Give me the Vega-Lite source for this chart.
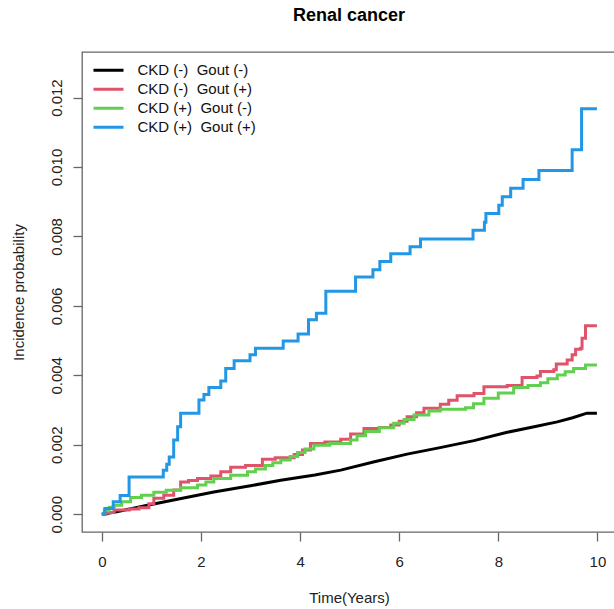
{
  "$schema": "https://vega.github.io/schema/vega-lite/v6.json",
  "width": 534,
  "height": 480,
  "autosize": "none",
  "padding": {"left": 82, "top": 52, "right": 0, "bottom": 77},
  "background": "white",
  "config": {
    "font": "Liberation Sans",
    "view": {"stroke": "#666666", "strokeWidth": 1.3},
    "axis": {
      "grid": false,
      "domain": false,
      "tickColor": "#666666",
      "tickWidth": 1.3,
      "tickSize": 9,
      "labelFont": "Liberation Sans",
      "labelFontSize": 15,
      "labelColor": "#222222",
      "titleFont": "Liberation Sans",
      "titleFontSize": 15,
      "titleFontWeight": "normal",
      "titleColor": "#222222"
    }
  },
  "title": {
    "text": "Renal cancer",
    "font": "Liberation Sans",
    "fontSize": 18,
    "fontWeight": "bold",
    "color": "#000000",
    "anchor": "middle",
    "offset": 27
  },
  "datasets": {
    "smooth": [
      {"t": 0, "p": 0, "g": "CKD (-)  Gout (-)"},
      {"t": 0.3, "p": 0.00007, "g": "CKD (-)  Gout (-)"},
      {"t": 0.92, "p": 0.00026, "g": "CKD (-)  Gout (-)"},
      {"t": 1.6, "p": 0.00045, "g": "CKD (-)  Gout (-)"},
      {"t": 2.26, "p": 0.00064, "g": "CKD (-)  Gout (-)"},
      {"t": 3.0, "p": 0.00082, "g": "CKD (-)  Gout (-)"},
      {"t": 3.61, "p": 0.00098, "g": "CKD (-)  Gout (-)"},
      {"t": 4.3, "p": 0.00113, "g": "CKD (-)  Gout (-)"},
      {"t": 4.82, "p": 0.00127, "g": "CKD (-)  Gout (-)"},
      {"t": 5.5, "p": 0.00151, "g": "CKD (-)  Gout (-)"},
      {"t": 6.16, "p": 0.00173, "g": "CKD (-)  Gout (-)"},
      {"t": 6.8, "p": 0.00191, "g": "CKD (-)  Gout (-)"},
      {"t": 7.51, "p": 0.00212, "g": "CKD (-)  Gout (-)"},
      {"t": 8.18, "p": 0.00236, "g": "CKD (-)  Gout (-)"},
      {"t": 8.7, "p": 0.00251, "g": "CKD (-)  Gout (-)"},
      {"t": 9.19, "p": 0.00266, "g": "CKD (-)  Gout (-)"},
      {"t": 9.5, "p": 0.00278, "g": "CKD (-)  Gout (-)"},
      {"t": 9.79, "p": 0.00291, "g": "CKD (-)  Gout (-)"},
      {"t": 9.99, "p": 0.00291, "g": "CKD (-)  Gout (-)"}
    ],
    "steps": [
      {"t": 0, "p": 0, "g": "CKD (-)  Gout (+)"},
      {"t": 0.08, "p": 0.00005, "g": "CKD (-)  Gout (+)"},
      {"t": 0.25, "p": 0.00012, "g": "CKD (-)  Gout (+)"},
      {"t": 0.55, "p": 0.00015, "g": "CKD (-)  Gout (+)"},
      {"t": 0.75, "p": 0.00019, "g": "CKD (-)  Gout (+)"},
      {"t": 0.95, "p": 0.0003, "g": "CKD (-)  Gout (+)"},
      {"t": 1.05, "p": 0.00046, "g": "CKD (-)  Gout (+)"},
      {"t": 1.25, "p": 0.00055, "g": "CKD (-)  Gout (+)"},
      {"t": 1.45, "p": 0.0007, "g": "CKD (-)  Gout (+)"},
      {"t": 1.59, "p": 0.00093, "g": "CKD (-)  Gout (+)"},
      {"t": 1.75, "p": 0.00097, "g": "CKD (-)  Gout (+)"},
      {"t": 1.93, "p": 0.00103, "g": "CKD (-)  Gout (+)"},
      {"t": 2.2, "p": 0.0011, "g": "CKD (-)  Gout (+)"},
      {"t": 2.4, "p": 0.00122, "g": "CKD (-)  Gout (+)"},
      {"t": 2.6, "p": 0.00135, "g": "CKD (-)  Gout (+)"},
      {"t": 2.9, "p": 0.0014, "g": "CKD (-)  Gout (+)"},
      {"t": 3.24, "p": 0.00158, "g": "CKD (-)  Gout (+)"},
      {"t": 3.5, "p": 0.00163, "g": "CKD (-)  Gout (+)"},
      {"t": 3.88, "p": 0.00172, "g": "CKD (-)  Gout (+)"},
      {"t": 4.05, "p": 0.00185, "g": "CKD (-)  Gout (+)"},
      {"t": 4.21, "p": 0.00204, "g": "CKD (-)  Gout (+)"},
      {"t": 4.5, "p": 0.00208, "g": "CKD (-)  Gout (+)"},
      {"t": 4.82, "p": 0.00216, "g": "CKD (-)  Gout (+)"},
      {"t": 5.02, "p": 0.00231, "g": "CKD (-)  Gout (+)"},
      {"t": 5.29, "p": 0.00247, "g": "CKD (-)  Gout (+)"},
      {"t": 5.6, "p": 0.0025, "g": "CKD (-)  Gout (+)"},
      {"t": 5.83, "p": 0.00257, "g": "CKD (-)  Gout (+)"},
      {"t": 6.0, "p": 0.00268, "g": "CKD (-)  Gout (+)"},
      {"t": 6.16, "p": 0.00281, "g": "CKD (-)  Gout (+)"},
      {"t": 6.35, "p": 0.00292, "g": "CKD (-)  Gout (+)"},
      {"t": 6.5, "p": 0.00305, "g": "CKD (-)  Gout (+)"},
      {"t": 6.83, "p": 0.00317, "g": "CKD (-)  Gout (+)"},
      {"t": 7.0, "p": 0.00328, "g": "CKD (-)  Gout (+)"},
      {"t": 7.17, "p": 0.00341, "g": "CKD (-)  Gout (+)"},
      {"t": 7.51, "p": 0.00348, "g": "CKD (-)  Gout (+)"},
      {"t": 7.71, "p": 0.00367, "g": "CKD (-)  Gout (+)"},
      {"t": 8.18, "p": 0.00371, "g": "CKD (-)  Gout (+)"},
      {"t": 8.48, "p": 0.00394, "g": "CKD (-)  Gout (+)"},
      {"t": 8.78, "p": 0.00398, "g": "CKD (-)  Gout (+)"},
      {"t": 8.85, "p": 0.00411, "g": "CKD (-)  Gout (+)"},
      {"t": 9.12, "p": 0.00416, "g": "CKD (-)  Gout (+)"},
      {"t": 9.17, "p": 0.00433, "g": "CKD (-)  Gout (+)"},
      {"t": 9.39, "p": 0.00444, "g": "CKD (-)  Gout (+)"},
      {"t": 9.49, "p": 0.00459, "g": "CKD (-)  Gout (+)"},
      {"t": 9.56, "p": 0.00475, "g": "CKD (-)  Gout (+)"},
      {"t": 9.66, "p": 0.00478, "g": "CKD (-)  Gout (+)"},
      {"t": 9.69, "p": 0.00507, "g": "CKD (-)  Gout (+)"},
      {"t": 9.76, "p": 0.00543, "g": "CKD (-)  Gout (+)"},
      {"t": 9.99, "p": 0.00543, "g": "CKD (-)  Gout (+)"},

      {"t": 0, "p": 0, "g": "CKD (+)  Gout (-)"},
      {"t": 0.05, "p": 0.0001, "g": "CKD (+)  Gout (-)"},
      {"t": 0.15, "p": 0.0002, "g": "CKD (+)  Gout (-)"},
      {"t": 0.25, "p": 0.00026, "g": "CKD (+)  Gout (-)"},
      {"t": 0.4, "p": 0.00036, "g": "CKD (+)  Gout (-)"},
      {"t": 0.58, "p": 0.00048, "g": "CKD (+)  Gout (-)"},
      {"t": 0.8, "p": 0.00055, "g": "CKD (+)  Gout (-)"},
      {"t": 1.05, "p": 0.00063, "g": "CKD (+)  Gout (-)"},
      {"t": 1.3, "p": 0.00069, "g": "CKD (+)  Gout (-)"},
      {"t": 1.59, "p": 0.00076, "g": "CKD (+)  Gout (-)"},
      {"t": 1.93, "p": 0.00084, "g": "CKD (+)  Gout (-)"},
      {"t": 2.1, "p": 0.00093, "g": "CKD (+)  Gout (-)"},
      {"t": 2.26, "p": 0.00103, "g": "CKD (+)  Gout (-)"},
      {"t": 2.6, "p": 0.00112, "g": "CKD (+)  Gout (-)"},
      {"t": 2.94, "p": 0.00122, "g": "CKD (+)  Gout (-)"},
      {"t": 3.1, "p": 0.0013, "g": "CKD (+)  Gout (-)"},
      {"t": 3.3, "p": 0.0014, "g": "CKD (+)  Gout (-)"},
      {"t": 3.45, "p": 0.00148, "g": "CKD (+)  Gout (-)"},
      {"t": 3.61, "p": 0.00156, "g": "CKD (+)  Gout (-)"},
      {"t": 3.8, "p": 0.00166, "g": "CKD (+)  Gout (-)"},
      {"t": 3.95, "p": 0.00178, "g": "CKD (+)  Gout (-)"},
      {"t": 4.1, "p": 0.00188, "g": "CKD (+)  Gout (-)"},
      {"t": 4.28, "p": 0.00199, "g": "CKD (+)  Gout (-)"},
      {"t": 4.6, "p": 0.00204, "g": "CKD (+)  Gout (-)"},
      {"t": 5.02, "p": 0.00214, "g": "CKD (+)  Gout (-)"},
      {"t": 5.15, "p": 0.00226, "g": "CKD (+)  Gout (-)"},
      {"t": 5.32, "p": 0.00238, "g": "CKD (+)  Gout (-)"},
      {"t": 5.6, "p": 0.00249, "g": "CKD (+)  Gout (-)"},
      {"t": 5.89, "p": 0.00262, "g": "CKD (+)  Gout (-)"},
      {"t": 6.1, "p": 0.00273, "g": "CKD (+)  Gout (-)"},
      {"t": 6.3, "p": 0.00286, "g": "CKD (+)  Gout (-)"},
      {"t": 6.6, "p": 0.00297, "g": "CKD (+)  Gout (-)"},
      {"t": 6.83, "p": 0.00302, "g": "CKD (+)  Gout (-)"},
      {"t": 7.34, "p": 0.00307, "g": "CKD (+)  Gout (-)"},
      {"t": 7.5, "p": 0.00318, "g": "CKD (+)  Gout (-)"},
      {"t": 7.71, "p": 0.00334, "g": "CKD (+)  Gout (-)"},
      {"t": 8.0, "p": 0.00349, "g": "CKD (+)  Gout (-)"},
      {"t": 8.31, "p": 0.00365, "g": "CKD (+)  Gout (-)"},
      {"t": 8.6, "p": 0.00371, "g": "CKD (+)  Gout (-)"},
      {"t": 8.85, "p": 0.00379, "g": "CKD (+)  Gout (-)"},
      {"t": 9.0, "p": 0.0039, "g": "CKD (+)  Gout (-)"},
      {"t": 9.19, "p": 0.00401, "g": "CKD (+)  Gout (-)"},
      {"t": 9.35, "p": 0.0041, "g": "CKD (+)  Gout (-)"},
      {"t": 9.52, "p": 0.0042, "g": "CKD (+)  Gout (-)"},
      {"t": 9.76, "p": 0.0043, "g": "CKD (+)  Gout (-)"},
      {"t": 9.99, "p": 0.0043, "g": "CKD (+)  Gout (-)"},

      {"t": 0, "p": 0, "g": "CKD (+)  Gout (+)"},
      {"t": 0.06, "p": 0.000164, "g": "CKD (+)  Gout (+)"},
      {"t": 0.23, "p": 0.000356, "g": "CKD (+)  Gout (+)"},
      {"t": 0.37, "p": 0.00054, "g": "CKD (+)  Gout (+)"},
      {"t": 0.55, "p": 0.00107, "g": "CKD (+)  Gout (+)"},
      {"t": 1.24, "p": 0.00127, "g": "CKD (+)  Gout (+)"},
      {"t": 1.31, "p": 0.00144, "g": "CKD (+)  Gout (+)"},
      {"t": 1.36, "p": 0.00165, "g": "CKD (+)  Gout (+)"},
      {"t": 1.45, "p": 0.00214, "g": "CKD (+)  Gout (+)"},
      {"t": 1.53, "p": 0.00252, "g": "CKD (+)  Gout (+)"},
      {"t": 1.59, "p": 0.00291, "g": "CKD (+)  Gout (+)"},
      {"t": 1.96, "p": 0.00329, "g": "CKD (+)  Gout (+)"},
      {"t": 2.06, "p": 0.00345, "g": "CKD (+)  Gout (+)"},
      {"t": 2.16, "p": 0.00365, "g": "CKD (+)  Gout (+)"},
      {"t": 2.4, "p": 0.00384, "g": "CKD (+)  Gout (+)"},
      {"t": 2.5, "p": 0.0042, "g": "CKD (+)  Gout (+)"},
      {"t": 2.67, "p": 0.00442, "g": "CKD (+)  Gout (+)"},
      {"t": 2.99, "p": 0.00459, "g": "CKD (+)  Gout (+)"},
      {"t": 3.1, "p": 0.00478, "g": "CKD (+)  Gout (+)"},
      {"t": 3.66, "p": 0.00499, "g": "CKD (+)  Gout (+)"},
      {"t": 3.96, "p": 0.00519, "g": "CKD (+)  Gout (+)"},
      {"t": 4.17, "p": 0.0056, "g": "CKD (+)  Gout (+)"},
      {"t": 4.33, "p": 0.00579, "g": "CKD (+)  Gout (+)"},
      {"t": 4.52, "p": 0.00642, "g": "CKD (+)  Gout (+)"},
      {"t": 5.12, "p": 0.00683, "g": "CKD (+)  Gout (+)"},
      {"t": 5.47, "p": 0.00704, "g": "CKD (+)  Gout (+)"},
      {"t": 5.61, "p": 0.00728, "g": "CKD (+)  Gout (+)"},
      {"t": 5.83, "p": 0.0075, "g": "CKD (+)  Gout (+)"},
      {"t": 6.22, "p": 0.0077, "g": "CKD (+)  Gout (+)"},
      {"t": 6.43, "p": 0.00793, "g": "CKD (+)  Gout (+)"},
      {"t": 7.49, "p": 0.00818, "g": "CKD (+)  Gout (+)"},
      {"t": 7.72, "p": 0.00841, "g": "CKD (+)  Gout (+)"},
      {"t": 7.75, "p": 0.00866, "g": "CKD (+)  Gout (+)"},
      {"t": 8.01, "p": 0.0089, "g": "CKD (+)  Gout (+)"},
      {"t": 8.08, "p": 0.00914, "g": "CKD (+)  Gout (+)"},
      {"t": 8.25, "p": 0.00939, "g": "CKD (+)  Gout (+)"},
      {"t": 8.5, "p": 0.00964, "g": "CKD (+)  Gout (+)"},
      {"t": 8.82, "p": 0.0099, "g": "CKD (+)  Gout (+)"},
      {"t": 9.49, "p": 0.0105, "g": "CKD (+)  Gout (+)"},
      {"t": 9.68, "p": 0.01168, "g": "CKD (+)  Gout (+)"},
      {"t": 9.99, "p": 0.01168, "g": "CKD (+)  Gout (+)"}
    ]
  },
  "encoding": {
    "x": {
      "field": "t",
      "type": "quantitative",
      "scale": {"domain": [-0.4, 10.375], "nice": false, "zero": false},
      "axis": {
        "title": "Time(Years)",
        "values": [0, 2, 4, 6, 8, 10],
        "format": "d",
        "labelPadding": 13,
        "labelDx": -3,
        "titlePadding": 21
      }
    },
    "y": {
      "field": "p",
      "type": "quantitative",
      "scale": {"domain": [-0.000512, 0.013312], "nice": false, "zero": false},
      "axis": {
        "title": "Incidence probability",
        "values": [0, 0.002, 0.004, 0.006, 0.008, 0.01, 0.012],
        "format": ".3f",
        "labelAngle": 270,
        "labelPadding": 9,
        "labelDx": -3,
        "titlePadding": 23
      }
    },
    "color": {
      "field": "g",
      "type": "nominal",
      "scale": {
        "domain": ["CKD (-)  Gout (-)", "CKD (-)  Gout (+)", "CKD (+)  Gout (-)", "CKD (+)  Gout (+)"],
        "range": ["#000000", "#DF536B", "#61D04F", "#2297E6"]
      },
      "legend": {
        "title": null,
        "orient": "none",
        "legendX": 10,
        "legendY": 9,
        "padding": 0,
        "symbolType": "stroke",
        "symbolSize": 900,
        "symbolStrokeWidth": 3,
        "clipHeight": 18.4,
        "rowPadding": 0,
        "labelOffset": 12.5,
        "labelFont": "Liberation Sans",
        "labelFontSize": 15,
        "labelColor": "#111111",
        "labelExpr": "replace(datum.label, ')  G', ')\u00a0\u00a0G')"
      }
    }
  },
  "layer": [
    {
      "data": {"name": "smooth"},
      "mark": {"type": "line", "strokeWidth": 3, "interpolate": "linear", "clip": true}
    },
    {
      "data": {"name": "steps"},
      "mark": {"type": "line", "strokeWidth": 3, "interpolate": "step-after", "clip": true}
    }
  ]
}
